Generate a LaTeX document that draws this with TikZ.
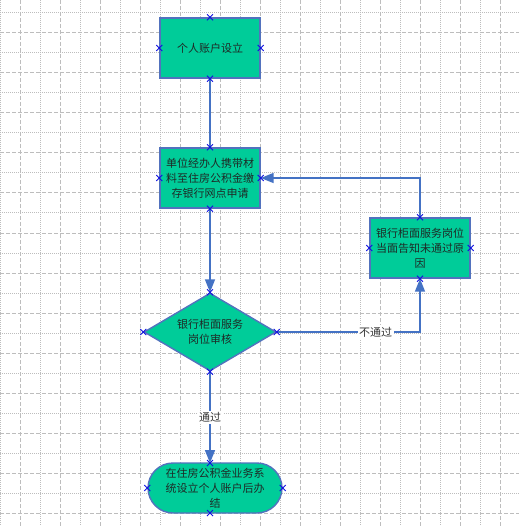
\documentclass[tikz,border=0pt]{standalone}
\usepackage{fontspec}
\newfontfamily\cjk{Noto Sans CJK SC}
\usetikzlibrary{shapes.geometric,arrows.meta}
\definecolor{boxfill}{HTML}{00CC99}
\definecolor{boxline}{HTML}{5272BE}
\definecolor{conn}{HTML}{4472C4}
\definecolor{gridc}{HTML}{BDBDBD}
\definecolor{markc}{HTML}{1010E0}
\definecolor{txt}{HTML}{1E2A26}
\begin{document}
\begin{tikzpicture}[x=1pt,y=-1pt,
  base/.style={draw=boxline, line width=1.4pt, fill=boxfill, text=txt, align=center, inner sep=0pt,
    font=\cjk\fontsize{11}{15}\selectfont},
  procbox/.style={base, rectangle, minimum width=100pt, minimum height=60pt},
  decbox/.style={base, diamond, aspect=1.7, minimum width=132pt, minimum height=78pt},
  termbox/.style={base, rectangle, rounded corners=25pt, minimum width=134pt, minimum height=50pt},
  conn/.style={draw=conn, line width=1.6pt},
  connarrow/.style={conn, -{Triangle[length=13pt,width=10pt]}},
  lbl/.style={fill=white, text=black!80, inner sep=1.5pt, font=\cjk\fontsize{11}{12}\selectfont},
  mk/.style={markc, line width=0.9pt}
]
\useasboundingbox (0,0) rectangle (519,526);
\fill[white] (0,0) rectangle (519,526);
% grid
\foreach \x in {0,40,...,519} \draw[gridc, line width=1pt, dash pattern=on 1pt off 1pt] (\x,0) -- (\x,526);
\foreach \x in {20,60,...,519} \draw[gridc, line width=1pt, dash pattern=on 4pt off 2pt] (\x,0) -- (\x,526);
\foreach \y in {13,53,...,526} \draw[gridc, line width=1pt, dash pattern=on 1pt off 1pt] (0,\y) -- (519,\y);
\foreach \y in {33,73,...,526} \draw[gridc, line width=1pt, dash pattern=on 4pt off 2pt] (0,\y) -- (519,\y);

% nodes
\node[procbox] (a) at (210,48) {个人账户设立};
\node[procbox] (b) at (210,178) {单位经办人携带材\\料至住房公积金缴\\存银行网点申请};
\node[procbox] (c) at (420,248) {银行柜面服务岗位\\当面告知未通过原\\因};
\node[decbox] (d) at (210,332) {银行柜面服务\\岗位审核};
\node[termbox] (t) at (215,488) {在住房公积金业务系\\统设立个人账户后办\\结};
\coordinate (ttop) at (210,463);
\coordinate (tbot) at (210,513);

% connectors
\draw[conn] (a.south) -- (b.north);
\draw[connarrow] (b.south) -- (d.north);
\draw[connarrow] (d.east) -- node[lbl, pos=0.69]{不通过} (c.south |- d.east) -- (c.south);
\draw[connarrow] (c.north) -- (c.north |- b.east) -- (b.east);
\draw[connarrow] (d.south) -- node[lbl]{通过} (ttop);

% connection point markers
\foreach \p in {a.north,a.south,a.east,a.west,b.north,b.south,b.east,b.west,
                c.north,c.south,c.east,c.west,d.north,d.south,d.east,d.west,
                ttop,tbot,t.east,t.west}{
  \draw[mk] ([shift={(-3pt,-3pt)}]\p) -- ([shift={(3pt,3pt)}]\p);
  \draw[mk] ([shift={(-3pt,3pt)}]\p) -- ([shift={(3pt,-3pt)}]\p);
}
\end{tikzpicture}
\end{document}
